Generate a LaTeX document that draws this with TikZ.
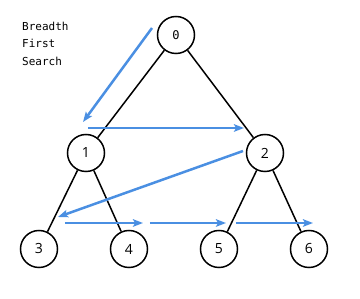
\documentclass[tikz,border=0pt]{standalone}
\usepackage{fontspec}
\setmonofont{DejaVu Sans Mono}
\setsansfont{Open Sans}
\definecolor{bfsBlue}{HTML}{4A8FE2}
\usetikzlibrary{arrows.meta}

\begin{document}
\begin{tikzpicture}[x=1pt, y=-1pt,
  vertex/.style={draw=black, line width=1.5pt, circle, minimum size=37pt, inner sep=0pt, font=\sffamily\fontsize{14}{14}\selectfont},
  edge/.style={draw=black, line width=1.5pt},
  visit/.style={draw=bfsBlue, line width=2.5pt, -{Stealth[length=10pt, width=7.5pt, inset=2pt]}}]
\useasboundingbox (0,0) rectangle (360,299);
% caption
\node[anchor=north west, inner sep=0pt, align=left, font=\ttfamily\fontsize{11}{17.5}\selectfont] (title) at (22,21.5) {Breadth\\First\\Search};
% tree
\node[vertex, font=\ttfamily\fontsize{12}{12}\selectfont] (n0) at (176,35) {0};
\node[vertex] (n1) at (86,153) {1};
\node[vertex] (n2) at (265,153) {2};
\node[vertex] (n3) at (39,249) {3};
\node[vertex] (n4) at (129,249) {4};
\node[vertex] (n5) at (219,249) {5};
\node[vertex] (n6) at (309,249) {6};
\draw[edge] (n0) -- (n1);
\draw[edge] (n0) -- (n2);
\draw[edge] (n1) -- (n3);
\draw[edge] (n1) -- (n4);
\draw[edge] (n2) -- (n5);
\draw[edge] (n2) -- (n6);
% visiting order
\coordinate (a1s) at (152,28);  \coordinate (a1e) at (83,122);
\coordinate (a2s) at (88,128);  \coordinate (a2e) at (244,128);
\coordinate (a3s) at (243,151); \coordinate (a3e) at (58,217);
\coordinate (a4s) at (65,223);  \coordinate (a4e) at (143,223);
\coordinate (a5s) at (150,223); \coordinate (a5e) at (226,223);
\coordinate (a6s) at (236,223); \coordinate (a6e) at (313,223);
\foreach \i in {1,...,6}
  \draw[visit] (a\i s) -- (a\i e);
\end{tikzpicture}
\end{document}
